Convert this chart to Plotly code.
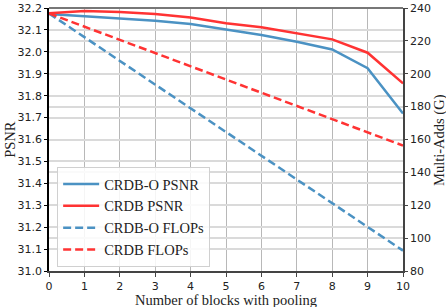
import plotly.graph_objects as go

blocks = list(range(11))
crdbo_psnr = [32.173, 32.163, 32.153, 32.142, 32.127, 32.103, 32.077, 32.046, 32.011, 31.925, 31.719]
crdb_psnr = [32.176, 32.186, 32.182, 32.173, 32.157, 32.130, 32.112, 32.084, 32.057, 31.996, 31.856]
crdbo_flops = [236.7, 222.3, 207.9, 193.4, 179.0, 164.6, 150.1, 135.7, 121.2, 106.8, 92.4]
crdb_flops = [236.7, 228.7, 220.6, 212.6, 204.5, 196.5, 188.5, 180.4, 172.4, 164.3, 156.3]

psnr_ticks = [31.0, 31.1, 31.2, 31.3, 31.4, 31.5, 31.6, 31.7, 31.8, 31.9, 32.0, 32.1, 32.2]
flops_ticks = [80, 100, 120, 140, 160, 180, 200, 220, 240]

BLUE = "#4b92c3"
RED = "#ff3333"
serif = "Liberation Serif, Times New Roman, serif"
sans = "DejaVu Sans, sans-serif"

fig = go.Figure()
fig.add_trace(go.Scatter(x=blocks, y=crdbo_psnr, mode="lines", name="CRDB-O PSNR",
                         line=dict(color=BLUE, width=2.5)))
fig.add_trace(go.Scatter(x=blocks, y=crdb_psnr, mode="lines", name="CRDB PSNR",
                         line=dict(color=RED, width=2.5)))
fig.add_trace(go.Scatter(x=blocks, y=crdbo_flops, mode="lines", name="CRDB-O FLOPs", yaxis="y2",
                         line=dict(color=BLUE, width=2.5, dash="8px,4px")))
fig.add_trace(go.Scatter(x=blocks, y=crdb_flops, mode="lines", name="CRDB FLOPs", yaxis="y2",
                         line=dict(color=RED, width=2.5, dash="8px,4px")))

fig.update_layout(
    width=446, height=307,
    margin=dict(l=49, r=43, t=8, b=36, autoexpand=False),
    paper_bgcolor="white", plot_bgcolor="white",
    font=dict(family=sans, size=11, color="#222"),
    xaxis=dict(range=[0, 10], tickvals=blocks, showgrid=True, gridcolor="#b8b8b8", gridwidth=1,
               showline=True, linecolor="#444", linewidth=1.5, mirror=False, automargin=False,
               ticks="outside", ticklen=4, tickcolor="#444", zeroline=False),
    yaxis=dict(range=[31.0, 32.2], tickvals=psnr_ticks, tickformat=".1f", showgrid=True,
               gridcolor="#dadada", gridwidth=1.5, showline=True, linecolor="black", linewidth=1.5,
               ticks="outside", ticklen=3, tickcolor="black", zeroline=False, automargin=False),
    yaxis2=dict(range=[80, 240], tickvals=flops_ticks, overlaying="y", side="right", showgrid=True,
                gridcolor="#dadada", gridwidth=1.5, showline=True, linecolor="#444", linewidth=1.5,
                ticks="outside", ticklen=3, tickcolor="#444", zeroline=False, automargin=False),
    legend=dict(x=0.023, y=0.015, xanchor="left", yanchor="bottom",
                bgcolor="rgba(255,255,255,0.85)", bordercolor="#d0d0d0", borderwidth=1,
                font=dict(family=serif, size=14.5, color="#222"), tracegroupgap=0, itemwidth=36),
    showlegend=True,
)
title_font = dict(family=serif, size=14.5, color="#222")
fig.add_annotation(text="Number of blocks with pooling", xref="paper", yref="paper",
                   x=0.5, y=-0.109, xanchor="center", yanchor="middle", showarrow=False, font=title_font)
fig.add_annotation(text="PSNR", xref="paper", yref="paper", x=-0.112, y=0.5,
                   xanchor="center", yanchor="middle", textangle=-90, showarrow=False, font=title_font)
fig.add_annotation(text="Multi-Adds (G)", xref="paper", yref="paper", x=1.103, y=0.5,
                   xanchor="center", yanchor="middle", textangle=-90, showarrow=False, font=title_font)
fig.add_shape(type="line", xref="paper", yref="paper", x0=0, x1=1, y0=1, y1=1,
              line=dict(color="#777", width=2))
fig.write_html("out.html", config={"displayModeBar": False},
               post_script="document.body.style.margin='0';document.body.style.overflow='hidden';")
